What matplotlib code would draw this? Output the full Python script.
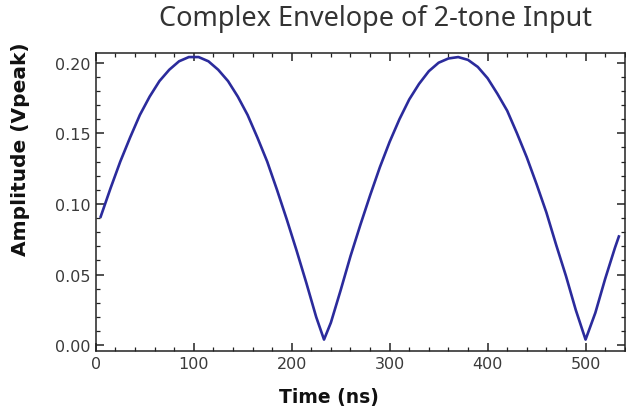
import matplotlib.pyplot as plt
from matplotlib.ticker import MultipleLocator

# envelope (time in ns, amplitude in Vpeak)
time_ns = [5, 15, 25, 35, 45, 55, 65, 75, 85, 95, 105, 115, 125, 135, 145,
           155, 165, 175, 185, 195, 205, 215, 225, 233, 240, 250, 260, 270,
           280, 290, 300, 310, 320, 330, 340, 350, 360, 370, 380, 390, 400,
           410, 420, 430, 440, 450, 460, 470, 480, 490, 500, 510, 520, 530,
           534]
amplitude = [0.091, 0.111, 0.130, 0.147, 0.163, 0.176, 0.187, 0.195, 0.201,
             0.204, 0.204, 0.201, 0.195, 0.187, 0.176, 0.163, 0.147, 0.130,
             0.110, 0.089, 0.067, 0.044, 0.020, 0.004, 0.016, 0.039, 0.063,
             0.085, 0.106, 0.126, 0.144, 0.160, 0.174, 0.185, 0.194, 0.200,
             0.203, 0.204, 0.202, 0.197, 0.189, 0.178, 0.166, 0.150, 0.133,
             0.114, 0.094, 0.071, 0.049, 0.025, 0.004, 0.023, 0.047, 0.069,
             0.077]

title = "Complex Envelope of 2-tone Input"
xlabel = "Time (ns)"
ylabel = "Amplitude (Vpeak)"

fig = plt.figure(figsize=(6.26, 4.14), dpi=100)
ax = fig.add_axes([0.153, 0.150, 0.845, 0.720])

ax.plot(time_ns, amplitude, color="#2b2b9c", lw=1.9, solid_joinstyle="round")

ax.set_xlim(0, 540)
ax.set_ylim(-0.004, 0.207)
ax.xaxis.set_major_locator(MultipleLocator(100))
ax.xaxis.set_minor_locator(MultipleLocator(20))
ax.yaxis.set_major_locator(MultipleLocator(0.05))
ax.yaxis.set_minor_locator(MultipleLocator(0.01))
ax.yaxis.set_major_formatter(plt.FormatStrFormatter("%.2f"))

ax.tick_params(which="both", direction="in", top=True, right=True,
               colors="#222222", labelcolor="#3a3a3a", labelsize=11.5)
ax.tick_params(which="major", length=6, width=1.1)
ax.tick_params(which="minor", length=3, width=0.9)
for s in ax.spines.values():
    s.set_linewidth(1.1)
    s.set_color("#222222")

ax.set_xlabel(xlabel, fontsize=13.5, fontweight="bold", color="#111111")
ax.xaxis.set_label_coords(0.44, -0.12)
ax.set_ylabel(ylabel, fontsize=14.5, fontweight="bold", color="#111111")
ax.yaxis.set_label_coords(-0.125, 0.68)

fig.text(0.6, 0.955, title, ha="center", va="center", fontsize=19.5,
         color="#333333", family="Noto Sans")

plt.savefig("out.png", dpi=100)
plt.close(fig)
